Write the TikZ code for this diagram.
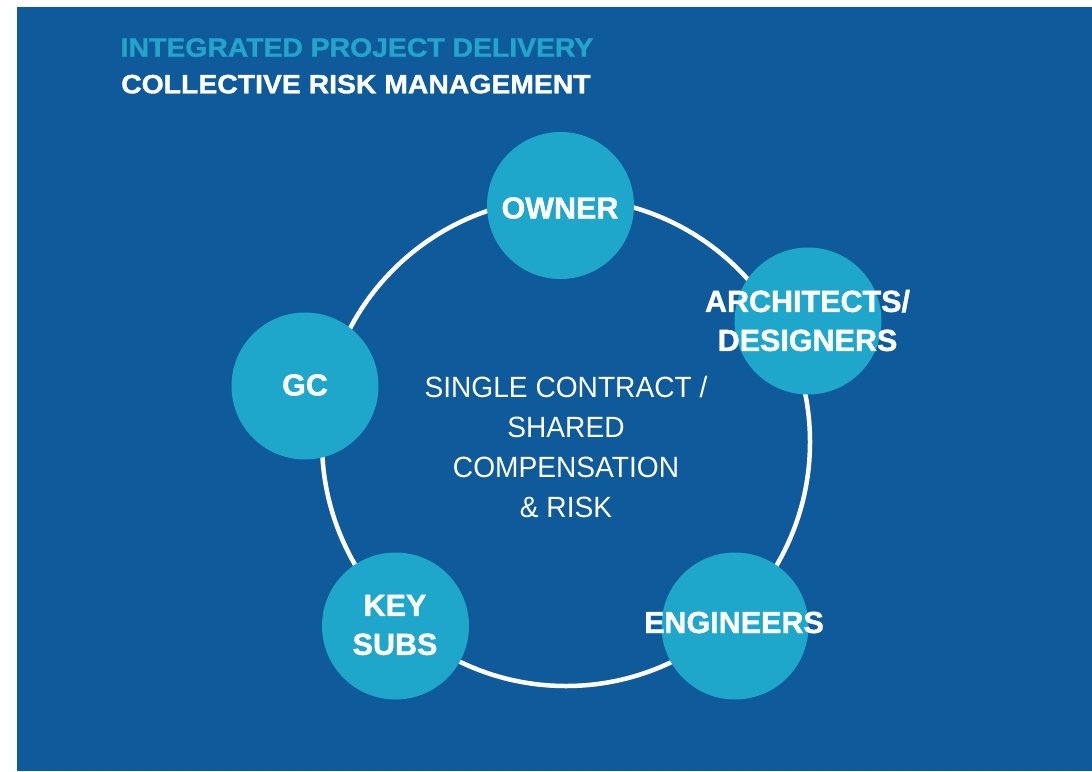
\documentclass[tikz,border=0pt]{standalone}
\usepackage{fontspec}
\setmainfont{Liberation Sans}
\newfontfamily\titlefont{Liberation Sans}[FakeStretch=1.07, BoldFeatures={FakeBold=1.3}]
\newfontfamily\heavyfont{Liberation Sans}[BoldFeatures={FakeBold=1.3}]
\newfontfamily\centerfont{Liberation Sans}[FakeStretch=0.96]
\definecolor{bgblue}{HTML}{0E5A9B}
\definecolor{circblue}{HTML}{1FA6CB}
\definecolor{titleblue}{HTML}{22A4CD}
\begin{document}
\begin{tikzpicture}[x=1pt,y=-1pt,
  member/.style={circle, fill=circblue, minimum size=147pt, inner sep=0pt},
  memberlabel/.style={text=white, font=\heavyfont\bfseries\fontsize{30.5}{39}\selectfont, align=center, inner sep=0pt},
  ringstyle/.style={circle, draw=white, line width=4.5pt, minimum size=488pt, inner sep=0pt},
  titlestyle/.style={anchor=base west, inner sep=0pt, font=\titlefont\bfseries\fontsize{26.5}{30}\selectfont}]
\useasboundingbox (0,0) rectangle (1092,771);
\fill[white] (0,0) rectangle (1092,771);
\fill[bgblue] (17,7) rectangle (1092,771);
\node[titlestyle, text=titleblue] (title1) at (120.5,56.7) {INTEGRATED PROJECT DELIVERY};
\node[titlestyle, text=white] (title2) at (121,93.3) {COLLECTIVE RISK MANAGEMENT};
\node[ringstyle] (ring) at (566,442) {};
\node[member] (owner) at (560.5,205.5) {};
\node[member] (arch) at (808,321) {};
\node[member] (gc) at (305,386) {};
\node[member] (subs) at (395.5,626) {};
\node[member] (eng) at (735,626) {};
\node[memberlabel] (ownerT) at (560,208) {OWNER};
\node[memberlabel] (archT) at (807.5,320.5) {ARCHITECTS/\\DESIGNERS};
\node[memberlabel] (gcT) at (305,385) {GC};
\node[memberlabel] (subsT) at (395,625) {KEY\\SUBS};
\node[memberlabel] (engT) at (734,622.5) {ENGINEERS};
\node[text=white, align=center, inner sep=0pt, font=\centerfont\fontsize{29.3}{39.7}\selectfont] (centre) at (566,447) {SINGLE CONTRACT /\\SHARED\\COMPENSATION\\\& RISK};
\end{tikzpicture}
\end{document}
